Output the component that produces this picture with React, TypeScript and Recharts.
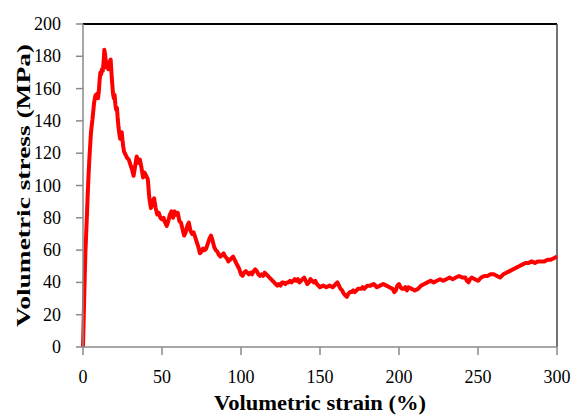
import React from 'react';
import { LineChart, Line, XAxis, YAxis, ReferenceLine } from 'recharts';

const strain = [
  0, 0.5, 1, 1.5, 2, 2.5, 3, 3.5, 4, 4.5, 5, 5.5, 6, 6.5, 7, 7.5, 8, 8.5, 9, 9.5,
  10, 10.5, 11, 11.5, 12, 12.5, 13, 13.5, 14, 14.5, 15, 15.5, 16, 16.5, 17, 17.5, 18, 18.5, 19, 19.5,
  20, 20.5, 21, 21.5, 22, 22.5, 23, 23.5, 24, 24.5, 25, 25.5, 26, 27, 28, 29, 30, 31, 32, 33,
  34, 35, 36, 37, 38, 39, 40, 41, 42, 43, 44, 45, 46, 47, 48, 49, 50, 51, 52, 53,
  54, 55, 56, 57, 58, 59, 60, 61, 62, 63, 64, 65, 66, 67, 68, 69, 70, 71, 72, 73,
  74, 75, 76, 77, 78, 79, 80, 81, 82, 83, 84, 85, 86, 87, 88, 89, 90, 91, 92, 93,
  94, 95, 96, 97, 98, 99, 100, 101, 102, 103, 104, 105, 106, 107, 108, 109, 110, 111, 112, 113,
  114, 115, 116, 117, 118, 119, 120, 121, 122, 123, 124, 125, 126, 127, 128, 129, 130, 131, 132, 133,
  134, 135, 136, 137, 138, 139, 140, 141, 142, 143, 144, 145, 146, 147, 148, 149, 150, 152, 154, 156,
  158, 160, 161, 162, 163, 164, 165, 166, 167, 168, 169, 170, 171, 172, 174, 176, 177, 178, 180, 182,
  184, 186, 188, 190, 192, 194, 196, 197, 198, 199, 200, 201, 202, 203, 204, 205, 206, 208, 210, 212,
  214, 216, 218, 220, 222, 224, 226, 228, 230, 232, 234, 236, 238, 240, 242, 243, 244, 245, 246, 248,
  250, 252, 254, 256, 258, 260, 262, 264, 266, 268, 270, 272, 274, 276, 278, 280, 282, 284, 286, 288,
  290, 292, 294, 296, 298, 300,
];

const stress = [
  0, 20, 40, 58, 70, 82, 95, 106, 116, 124, 132, 137, 141, 146, 151, 154, 156, 155, 157, 154,
  158, 165, 170, 169, 172, 171, 176, 184, 181, 176, 173, 176, 172, 175, 177, 178, 170, 163, 157, 154,
  156, 150, 147, 148, 141, 136, 132, 129, 131, 133, 128, 124, 121, 119, 117, 116, 113, 110, 106, 112,
  118, 114, 116, 111, 105, 108, 106, 104, 92, 86, 90, 92, 86, 82, 83, 80, 79, 80, 77, 75,
  78, 82, 84, 80, 84, 82, 83, 78, 77, 73, 69, 71, 75, 77, 72, 70, 71, 68, 65, 62,
  58, 59, 61, 60, 61, 64, 67, 69, 66, 62, 60, 59, 57, 56, 57, 58, 56, 55, 53, 54,
  55, 56, 54, 52, 50, 48, 45, 44, 46, 47, 46, 45, 46, 45, 47, 48, 47, 45, 44, 45,
  44, 46, 45, 44, 43, 42, 41, 40, 39, 38, 39, 38, 40, 40, 39, 40, 40, 41, 40, 41,
  42, 41, 42, 40, 41, 42, 43, 41, 39, 40, 42, 41, 40, 41, 39, 38, 37, 38, 37, 38,
  37, 39, 40, 38, 36, 35, 33, 32, 31, 33, 34, 34, 35, 34, 36, 36, 37, 36, 38, 38,
  39, 37, 38, 39, 38, 37, 36, 34, 35, 38, 39, 37, 36, 36, 37, 35, 37, 36, 35, 36,
  38, 39, 40, 41, 40, 41, 42, 41, 42, 43, 42, 43, 44, 43, 43, 41, 40, 42, 43, 42,
  41, 43, 44, 44, 45, 45, 44, 43, 45, 46, 47, 48, 49, 50, 51, 52, 52, 53, 52, 53,
  53, 53, 54, 54, 55, 56,
];

const xTicks = [0, 50, 100, 150, 200, 250, 300];
const yTicks = [0, 20, 40, 60, 80, 100, 120, 140, 160, 180, 200];

const data = strain.map((s, i) => ({ strain: s, stress: stress[i] }));

const font = 'Liberation Serif';

// tick labels in serif, like the source figure
const XTick = ({ x, y, payload }: any) => (
  <text x={x} y={y} dy={14} textAnchor="middle" fontFamily={font} fontSize={18} fill="#000">
    {payload.value}
  </text>
);

const YTick = ({ x, y, payload }: any) => (
  <text x={x} y={y} dy={6} textAnchor="end" fontFamily={font} fontSize={18} fill="#000">
    {payload.value}
  </text>
);

export default function App() {
  return (
    <div style={{ position: 'absolute', left: 0, top: 0, width: 574, height: 415, background: '#fff', fontFamily: font }}>
      <LineChart width={574} height={415} data={data} margin={{ top: 24, right: 17, bottom: 0, left: 0 }}>
        <XAxis
          type="number"
          dataKey="strain"
          domain={[0, 300]}
          ticks={xTicks}
          height={68}
          tickSize={8}
          tickMargin={14}
          axisLine={{ stroke: '#8a8a8a', strokeWidth: 1.5 }}
          tickLine={{ stroke: '#8a8a8a', strokeWidth: 1.5 }}
          tick={<XTick />}
          label={{
            content: () => (
              <text x={320} y={410} textAnchor="middle" fontFamily={font} fontWeight="bold" fontSize={22} textLength={212} lengthAdjust="spacingAndGlyphs" fill="#000">
                Volumetric strain (%)
              </text>
            ),
          }}
        />
        <YAxis
          type="number"
          domain={[0, 200]}
          ticks={yTicks}
          width={83}
          tickSize={7}
          tickMargin={15}
          axisLine={{ stroke: '#8a8a8a', strokeWidth: 1.5 }}
          tickLine={{ stroke: '#8a8a8a', strokeWidth: 1.5 }}
          tick={<YTick />}
          label={{
            content: () => (
              <text x={30} y={185.5} transform="rotate(-90 30 185.5)" textAnchor="middle" fontFamily={font} fontWeight="bold" fontSize={18} textLength={283} lengthAdjust="spacingAndGlyphs" fill="#000">
                Volumetric stress (MPa)
              </text>
            ),
          }}
        />
        <ReferenceLine y={200} stroke="#000" strokeWidth={2} />
        <ReferenceLine x={300} stroke="#444" strokeWidth={1.5} />
        <Line
          type="linear"
          dataKey="stress"
          stroke="#ff0000"
          strokeWidth={4}
          strokeLinejoin="round"
          dot={false}
          isAnimationActive={false}
        />
      </LineChart>
    </div>
  );
}
